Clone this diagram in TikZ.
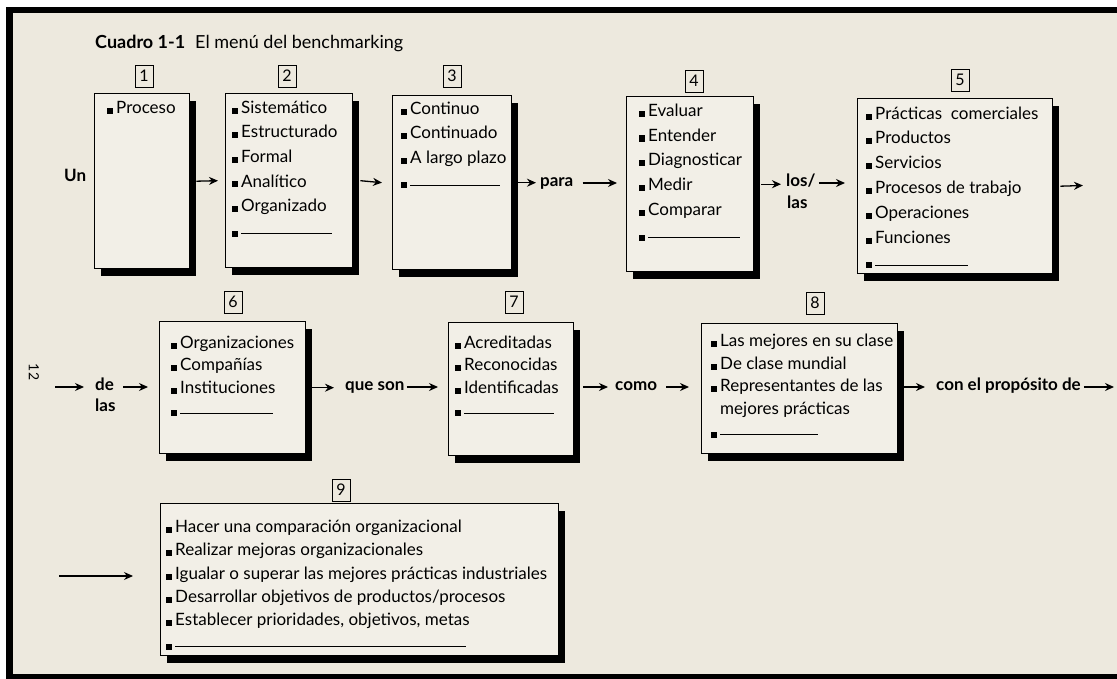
\documentclass[tikz,border=0pt]{standalone}
\usepackage{fontspec}
\setmainfont{Lato}
\usetikzlibrary{arrows.meta,shadows}
\definecolor{paper}{RGB}{237,233,222}
\definecolor{boxfill}{RGB}{242,239,231}
\newcommand\bul{\rule[-0.5pt]{6pt}{6pt}\hspace{3pt}}
\newcommand\blank[1]{\bul\rule[2pt]{#1}{1.1pt}}
\newcommand\fst{\rule{0pt}{14pt}}
\begin{document}
\begin{tikzpicture}[x=1pt,y=-1pt,
  box/.style={draw, line width=1.4pt, fill=boxfill, anchor=north west, inner sep=0pt,
    drop shadow={shadow xshift=6pt, shadow yshift=-7pt, fill=black, opacity=1}},
  items/.style={anchor=north west, inner sep=0pt, align=left},
  num/.style={draw, line width=0.8pt, inner sep=0pt, minimum width=18pt, minimum height=22pt,
    font=\fontsize{16}{16}\selectfont},
  lbl/.style={anchor=west, inner sep=0pt, text height=1.5ex, text depth=0.25ex,
    font=\bfseries\fontsize{17}{20}\selectfont},
  arr/.style={line width=1.3pt, -{Stealth[length=9pt,width=8pt]}}
]
% page and frame
\fill[white] (0,0) rectangle (1117,679);
\fill[paper] (6,7) rectangle (1117,679);
\fill[black] (6,7) rectangle (1117,13);
\fill[black] (6,7) rectangle (13,679);
\fill[black] (6,674) rectangle (1117,679);

\node[anchor=west, inner sep=0pt] (title) at (95,43)
  {\fontsize{18}{20}\selectfont\textbf{Cuadro 1-1}\hspace{10pt}El menú del benchmarking};
\node[rotate=-90, inner sep=0pt] (pg) at (34,372) {\fontsize{14}{14}\selectfont 12};

% number tags
\node[num] (n1) at (144,76) {1};
\node[num] (n2) at (287,76) {2};
\node[num] (n3) at (452,76) {3};
\node[num] (n4) at (694,81) {4};
\node[num] (n5) at (960,80) {5};
\node[num] (n6) at (233,302) {6};
\node[num] (n7) at (514,302) {7};
\node[num] (n8) at (815,303) {8};
\node[num] (n9) at (341,490) {9};

% boxes
\node[box, minimum width=95pt, minimum height=175pt] (b1) at (94,93) {};
\node[box, minimum width=127pt, minimum height=174pt] (b2) at (225,93) {};
\node[box, minimum width=119pt, minimum height=174pt] (b3) at (392,95) {};
\node[box, minimum width=127pt, minimum height=175pt] (b4) at (626,96) {};
\node[box, minimum width=195pt, minimum height=175pt] (b5) at (857,98) {};
\node[box, minimum width=146pt, minimum height=132pt] (b6) at (159,321) {};
\node[box, minimum width=125pt, minimum height=133pt] (b7) at (448,322) {};
\node[box, minimum width=196pt, minimum height=130pt] (b8) at (701,323) {};
\node[box, minimum width=398pt, minimum height=152pt] (b9) at (160,503) {};

% box contents
\node[items, font=\fontsize{17}{24.6}\selectfont] (t1) at (107,99) {\fst\bul Proceso};
\node[items, font=\fontsize{17}{24.6}\selectfont] (t2) at (232,99)
  {\fst\bul Sistemático\\\bul Estructurado\\\bul Formal\\\bul Analítico\\\bul Organizado\\\blank{91pt}};
\node[items, font=\fontsize{17}{24.6}\selectfont] (t3) at (401,100)
  {\fst\bul Continuo\\\bul Continuado\\\bul A largo plazo\\\blank{90pt}};
\node[items, font=\fontsize{17}{24.8}\selectfont] (t4) at (639,102)
  {\fst\bul Evaluar\\\bul Entender\\\bul Diagnosticar\\\bul Medir\\\bul Comparar\\\blank{92pt}};
\node[items, font=\fontsize{17}{24.8}\selectfont] (t5) at (866,105)
  {\fst\bul Prácticas\ \ comerciales\\\bul Productos\\\bul Servicios\\\bul Procesos de trabajo\\\bul Operaciones\\\bul Funciones\\\blank{93pt}};
\node[items, font=\fontsize{17}{22.5}\selectfont] (t6) at (171,334)
  {\fst\bul Organizaciones\\\bul Compañías\\\bul Instituciones\\\blank{93pt}};
\node[items, font=\fontsize{17}{22.5}\selectfont] (t7) at (455,334)
  {\fst\bul Acreditadas\\\bul Reconocidas\\\bul Identificadas\\\blank{90pt}};
\node[items, font=\fontsize{17}{22.8}\selectfont] (t8) at (711,332)
  {\fst\bul Las mejores en su clase\\\bul De clase mundial\\\bul Representantes de las\\\hspace{9pt}mejores prácticas\\\blank{98pt}};
\node[items, font=\fontsize{17}{23.4}\selectfont] (t9) at (166,518)
  {\fst\bul Hacer una comparación organizacional\\\bul Realizar mejoras organizacionales\\\bul Igualar o superar las mejores prácticas industriales\\\bul Desarrollar objetivos de productos/procesos\\\bul Establecer prioridades, objetivos, metas\\\blank{291pt}};

% connecting words
\node[lbl] (un) at (64,178) {Un};
\node[lbl] (para) at (540,183) {para};
\node[lbl] (los) at (786,183) {los/};
\node[lbl] (las1) at (787,205) {las};
\node[lbl] (de) at (95,387) {de};
\node[lbl] (las2) at (95,408) {las};
\node[lbl] (queson) at (345,387) {que son};
\node[lbl] (como) at (615,387) {como};
\node[lbl] (conel) at (936,387) {con el propósito de};

\coordinate (r1end) at (1083,185.5);
\coordinate (r2start) at (55,387);
\coordinate (r2end) at (1114,387);
\coordinate (r3start) at (59,576);

% connectors
\draw[arr] ([xshift=6pt]b1.east) -- ([xshift=-7pt]b2.west);
\draw[arr] ([xshift=7pt]b2.east) -- ([xshift=-10pt]b3.west);
\draw[arr] ([xshift=5pt]b3.east) -- ([xshift=-4pt]para.west |- b3.east);
\draw[arr] ([xshift=9pt]para.east) -- ([xshift=-9pt]b4.west |- para.east);
\draw[arr] ([xshift=7pt]b4.east) -- ([xshift=-5pt]los.west |- b4.east);
\draw[arr] ([xshift=3pt]los.east) -- ([xshift=-12pt]b5.west |- los.east);
\draw[arr] ([xshift=7pt]b5.east) -- (r1end);
\draw[arr] (r2start) -- ([xshift=-11pt]de.west);
\draw[arr] ([xshift=9pt]de.east) -- ([xshift=-11pt]b6.west |- de.east);
\draw[arr] ([xshift=6pt]b6.east) -- ([xshift=-11pt]queson.west |- b6.east);
\draw[arr] ([xshift=2pt]queson.east) -- ([xshift=-10pt]b7.west |- queson.east);
\draw[arr] ([xshift=9pt]b7.east |- como.west) -- ([xshift=-7pt]como.west);
\draw[arr] ([xshift=9pt]como.east) -- ([xshift=-12pt]b8.west |- como.east);
\draw[arr] ([xshift=6pt]b8.east |- conel.west) -- ([xshift=-11pt]conel.west);
\draw[arr] ([xshift=3pt]conel.east) -- (r2end);
\draw[arr, line width=1.1pt] (r3start) -- ([xshift=-27pt]b9.west |- r3start);
\end{tikzpicture}
\end{document}
